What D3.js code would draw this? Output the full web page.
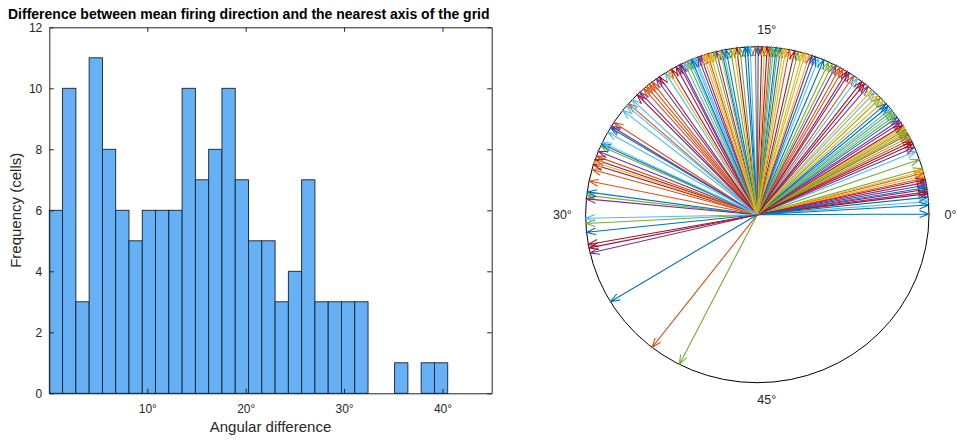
<!DOCTYPE html>
<html><head><meta charset="utf-8">
<script src="https://cdn.jsdelivr.net/npm/d3@7"></script>
<style>
body{margin:0;background:#fff}
text{font-family:Arial,"Liberation Sans",Helvetica,sans-serif;fill:#262626}
</style>
</head><body>
<svg id="chart" width="957" height="440"></svg>
<script>
// ---------- data ----------
const title = "Difference between mean firing direction and the nearest axis of the grid";
const histCounts = [6,10,3,11,8,6,5,6,6,6,10,7,8,10,7,5,5,3,4,7,3,3,3,3,0,0,1,0,1,1];
const binStart = 0.04;
const binWidth = 1.3497;
const xTickValues = [10,20,30,40];
const yTickValues = [0,2,4,6,8,10,12];
const xLabel = "Angular difference";
const yLabel = "Frequency (cells)";
// per-cell mean firing direction (deg, modulo 60), in recording order
const directions = [
  0.04, 2.1, 2.25, 1.3, 2.65, 0.75, 1.2,
  0.55, 2.4, 2.5, 1.7, 3.2, 3.7, 1.45,
  1.0, 4.45, 4.95, 1.85, 4.6, 6.2, 2.0,
  1.55, 4.75, 5.15, 3.95, 4.85, 6.5, 4.15,
  5.9, 9.3, 5.25, 5.55, 5.05, 7.8, 4.3,
  6.7, 10.0, 7.1, 5.7, 6.05, 9.05, 5.35,
  6.9, 10.2, 7.55, 8.3, 6.35, 11.5, 8.55,
  11.2, 13.2, 8.0, 9.6, 7.35, 14.1, 8.75,
  11.7, 14.3, 12.05, 10.45, 10.65, 15.4, 9.75,
  13.7, 15.1, 12.3, 11.9, 10.9, 16.9, 12.9,
  13.95, 17.8, 12.45, 17.3, 12.7, 18.5, 14.45,
  14.95, 21.3, 13.4, 18.2, 13.85, 18.6, 14.75,
  15.55, 21.5, 13.56, 18.35, 14.2, 18.85, 16.15,
  15.7, 21.7, 14.6, 19.4, 15.97, 19.2, 19.7,
  16.75, 21.9, 16.3, 19.5, 16.5, 20.4, 20.0,
  17.0, 23.1, 17.1, 21.0, 17.45, 22.8, 20.8,
  18.75, 24.45, 17.65, 22.2, 19.0, 23.25, 22.4,
  24.8, 26.6, 17.9, 24.7, 25.97, 23.6, 26.8,
  25.85, 27.4, 18.05, 26.3, 28.9, 25.1, 27.1,
  28.7, 28.07, 20.2, 29.1, 30.5, 25.75, 31.7,
  31.0, 38.7, 26.95, 32.2, 40.5, 30.2, 31.9,
  35.2
];
const roseTicks = [0,15,30,45];
const rosePeriod = 60;

// ---------- styles / layout ----------
const palette = ["#0072BD","#D95319","#EDB120","#7E2F8E","#77AC30","#4DBEEE","#A2142F"];
const axisColor = "#262626";
const svg = d3.select("#chart");

// ---------- histogram ----------
const hx = d3.scaleLinear().domain([binStart, 45]).range([49.3, 491.7]);
const hy = d3.scaleLinear().domain([0, 12]).range([393.3, 27.3]);

const bars = histCounts.map((c,i)=>({c, x0: binStart + i*binWidth, x1: binStart + (i+1)*binWidth})).filter(d=>d.c>0);
svg.append("g").selectAll("rect").data(bars).join("rect")
  .attr("x", d=>hx(d.x0)).attr("width", d=>hx(d.x1)-hx(d.x0))
  .attr("y", d=>hy(d.c)).attr("height", d=>hy(0)-hy(d.c))
  .attr("fill", "#66b0f6").attr("stroke", "#17212c").attr("stroke-width", 0.9);

function styleAxis(g){
  g.selectAll("path.domain").attr("stroke", axisColor).attr("stroke-width", 1);
  g.selectAll(".tick line").attr("stroke", axisColor).attr("stroke-width", 1);
  g.selectAll(".tick text").attr("fill", axisColor).style("font-size","12px").style("font-family","Arial, 'Liberation Sans', sans-serif");
}
svg.append("g").attr("transform", `translate(0,${hy(0)})`)
  .call(d3.axisBottom(hx).tickValues(xTickValues).tickFormat(d=>d+"°").tickSizeInner(-4.5).tickSizeOuter(0).tickPadding(11))
  .call(styleAxis);
svg.append("g").attr("transform", `translate(0,${hy(12)})`)
  .call(d3.axisTop(hx).tickValues(xTickValues).tickFormat("").tickSizeInner(-4.5).tickSizeOuter(0))
  .call(styleAxis);
svg.append("g").attr("transform", `translate(${hx.range()[0]},0)`)
  .call(d3.axisLeft(hy).tickValues(yTickValues).tickSizeInner(-4.5).tickSizeOuter(0).tickPadding(7))
  .call(styleAxis);
svg.append("g").attr("transform", `translate(${hx.range()[1]},0)`)
  .call(d3.axisRight(hy).tickValues(yTickValues).tickFormat("").tickSizeInner(-4.5).tickSizeOuter(0))
  .call(styleAxis);

svg.append("text").attr("x", 8).attr("y", 18.5)
  .style("font-size","14px").style("font-weight","bold").style("fill","#000").text(title);
svg.append("text").attr("x", (hx.range()[0]+hx.range()[1])/2).attr("y", 432)
  .attr("text-anchor","middle").style("font-size","15px").text(xLabel);
svg.append("text").attr("transform", `translate(21,${(hy(0)+hy(12))/2}) rotate(-90)`)
  .attr("text-anchor","middle").style("font-size","15px").text(yLabel);

// ---------- rose / compass ----------
const cx = 757.3, cy = 214.7, rx = 171.7, ry = 168;
const px = d3.scaleLinear().domain([-1,1]).range([cx-rx, cx+rx]);
const py = d3.scaleLinear().domain([-1,1]).range([cy+ry, cy-ry]);
const toRad = a => a/rosePeriod*2*Math.PI;

svg.append("ellipse").attr("cx", px(0)).attr("cy", py(0))
  .attr("rx", px(1)-px(0)).attr("ry", py(0)-py(1))
  .attr("fill","none").attr("stroke","#000").attr("stroke-width",1);

const headLen = 10, headAng = 20*Math.PI/180;
const arrows = svg.append("g").attr("fill","none").attr("stroke-width",1.1);
directions.forEach((a,i)=>{
  const t = toRad(a);
  const x0 = px(0), y0 = py(0), x1 = px(Math.cos(t)), y1 = py(Math.sin(t));
  const L = Math.hypot(x1-x0, y1-y0), ux = (x0-x1)/L, uy = (y0-y1)/L;
  const rot = (s)=>[x1 + headLen*(ux*Math.cos(s) - uy*Math.sin(s)), y1 + headLen*(ux*Math.sin(s) + uy*Math.cos(s))];
  const h1 = rot(headAng), h2 = rot(-headAng);
  const col = palette[i % palette.length];
  arrows.append("path")
    .attr("d", `M${x0},${y0}L${x1},${y1}M${h1[0]},${h1[1]}L${x1},${y1}L${h2[0]},${h2[1]}`)
    .attr("stroke", col);
});

svg.append("g").selectAll("text").data(roseTicks).join("text")
  .attr("x", d=>{ const c=Math.cos(toRad(d)); return c < -0.5 ? px(-1.08) : px(c>0.5 ? 1.09 : 0); })
  .attr("y", d=>py(1.1*Math.sin(toRad(d))))
  .attr("dy","0.35em")
  .attr("text-anchor", d=> Math.cos(toRad(d)) < -0.5 ? "end" : "start")
  .style("font-size","12.5px").text(d=>d+"°");
</script>
</body></html>
